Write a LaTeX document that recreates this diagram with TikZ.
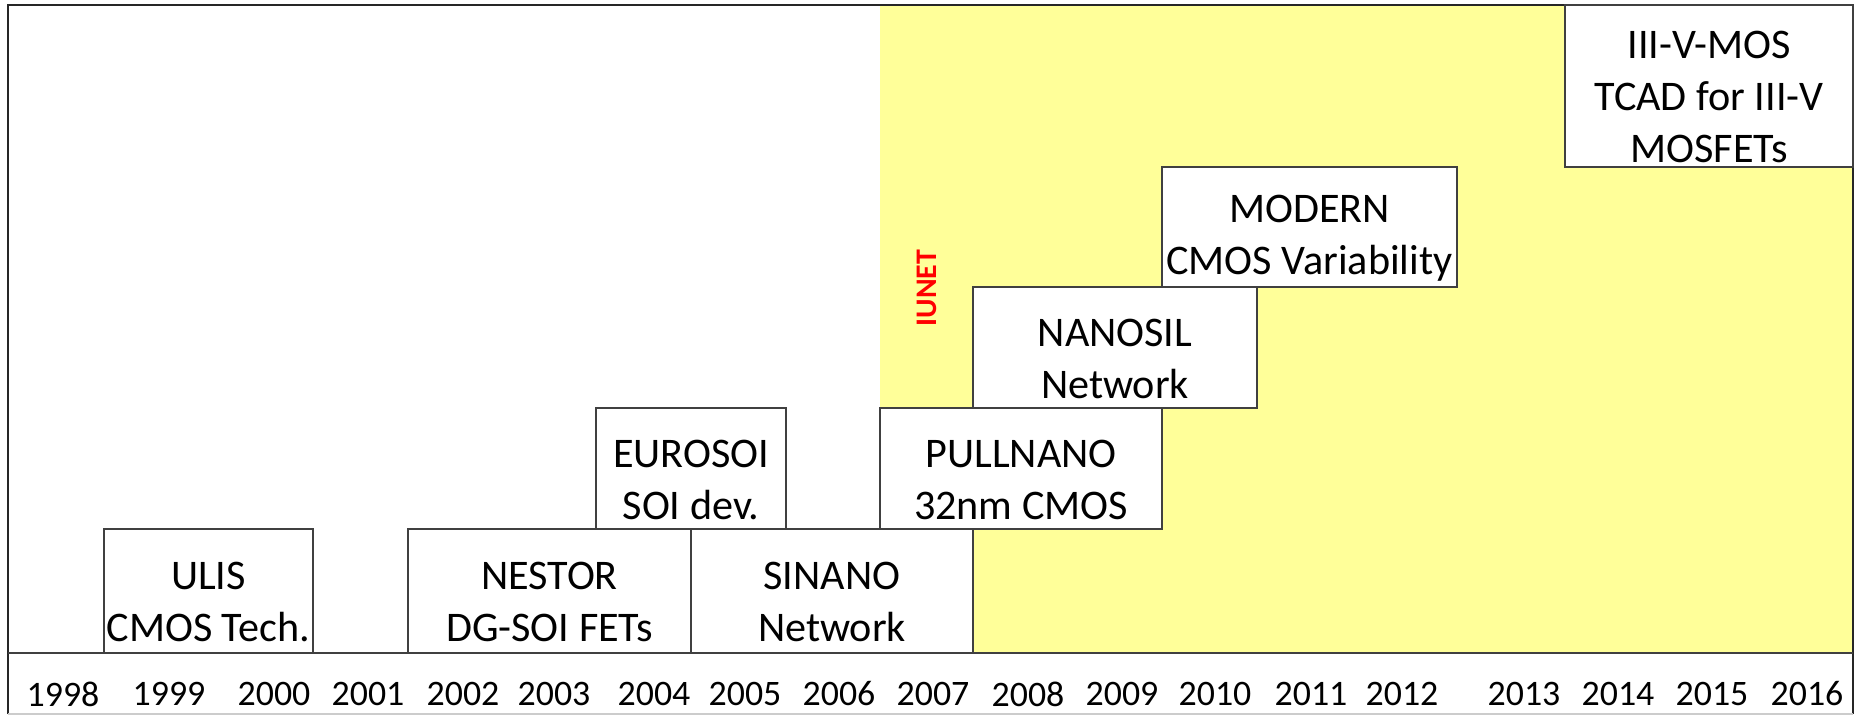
\documentclass[tikz,border=0pt]{standalone}
\usepackage{fontspec}
\setmainfont{Carlito}
\usepackage{xcolor}

\definecolor{iunetyellow}{RGB}{255,255,153}

\begin{document}
\begin{tikzpicture}[
    projbox/.style={draw=black!75,fill=white,line width=0.5pt,inner sep=0pt},
    projtext/.style={align=center,font=\fontsize{12}{14.8}\selectfont},
    yearlab/.style={font=\fontsize{10.2}{12}\selectfont}]
  \useasboundingbox (0,0) rectangle (18.59,7.15);

  % IUNET period (yellow background)
  \fill[iunetyellow] (8.80,0.62) rectangle (18.53,7.10);

  % frame and time axis
  \draw[black!85,line width=0.8pt] (0.08,0.01) -- (0.08,7.10) -- (18.53,7.10) -- (18.53,0.01);
  \draw[black!20,line width=0.4pt] (0.08,0.01) -- (18.53,0.01);
  \draw[black!75,line width=0.5pt] (0.08,0.62) -- (18.53,0.62);

  % years
  \foreach \x/\yr in {0.63/1998, 1.69/1999, 2.74/2000, 3.68/2001, 4.63/2002,
                      5.54/2003, 6.54/2004, 7.45/2005, 8.39/2006, 9.33/2007,
                      10.28/2008, 11.22/2009, 12.15/2010, 13.11/2011, 14.02/2012,
                      15.24/2013, 16.18/2014, 17.12/2015, 18.07/2016} {
    \node[yearlab] (y\yr) at (\x,0.21) {\yr};
  }

  % projects, bottom row
  \node[projbox,minimum width=2.09cm,minimum height=1.24cm] (ulis) at (2.085,1.24) {};
  \node[projbox,minimum width=2.83cm,minimum height=1.24cm] (nestor) at (5.495,1.24) {};
  \node[projbox,minimum width=2.82cm,minimum height=1.24cm] (sinano) at (8.32,1.24) {};

  % second row
  \node[projbox,minimum width=1.90cm,minimum height=1.21cm] (eurosoi) at (6.91,2.465) {};
  \node[projbox,minimum width=2.82cm,minimum height=1.21cm] (pullnano) at (10.21,2.465) {};

  % upper rows
  \node[projbox,minimum width=2.84cm,minimum height=1.21cm] (nanosil) at (11.15,3.675) {};
  \node[projbox,minimum width=2.95cm,minimum height=1.20cm] (modern) at (13.095,4.88) {};
  \node[projbox,minimum width=2.88cm,minimum height=1.62cm] (iiiv) at (17.09,6.29) {};

  % box labels
  \node[projtext] (ulislab) at ([yshift=-1.1mm]ulis.center) {ULIS\\CMOS Tech.};
  \node[projtext] (nestorlab) at ([yshift=-1.1mm]nestor.center) {NESTOR\\DG-SOI FETs};
  \node[projtext] (sinanolab) at ([yshift=-1.1mm]sinano.center) {SINANO\\Network};
  \node[projtext] (eurosoilab) at ([yshift=-1.1mm]eurosoi.center) {EUROSOI\\SOI dev.};
  \node[projtext] (pullnanolab) at ([yshift=-1.1mm]pullnano.center) {PULLNANO\\32nm CMOS};
  \node[projtext] (nanosillab) at ([yshift=-1.1mm]nanosil.center) {NANOSIL\\Network};
  \node[projtext] (modernlab) at ([yshift=-1.1mm]modern.center) {MODERN\\CMOS Variability};
  \node[projtext] (iiivlab) at ([yshift=-1.1mm]iiiv.center) {III-V-MOS\\TCAD for III-V\\MOSFETs};

  % network label
  \node[rotate=90,text=red,font=\fontsize{8.5}{10}\selectfont\bfseries] (iunet) at (9.27,4.27) {IUNET};

\end{tikzpicture}
\end{document}
